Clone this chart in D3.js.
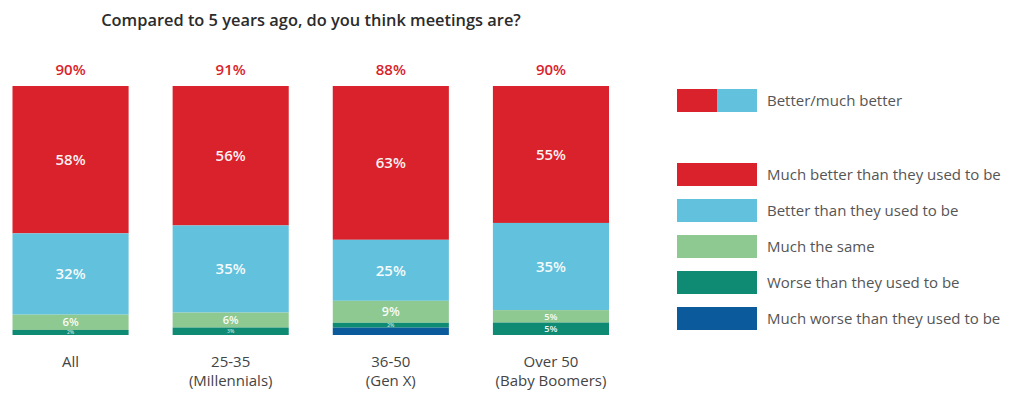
<!DOCTYPE html>
<html><head><meta charset="utf-8">
<script src="https://cdn.jsdelivr.net/npm/d3@7"></script>
<style>
html,body{margin:0;padding:0;background:#fff;}
svg{display:block;font-family:"Open Sans",sans-serif;}
</style></head>
<body>
<svg id="c" width="1024" height="399"></svg>
<script>
const title = "Compared to 5 years ago, do you think meetings are?";
const categories = ["All", "25-35", "36-50", "Over 50"];
const subLabels = ["", "(Millennials)", "(Gen X)", "(Baby Boomers)"];
const seriesNames = ["Much better than they used to be", "Better than they used to be", "Much the same", "Worse than they used to be", "Much worse than they used to be"];
const muchBetter = [58, 56, 63, 55];
const better = [32, 35, 25, 35];
const same = [6, 6, 9, 5];
const worse = [2, 3, 2, 5];
const muchWorse = [0, 0, 3, 0];
const betterTotal = [90, 91, 88, 90];
const comboLegend = "Better/much better";
const colors = ["#d9222b", "#62c1dc", "#8fc992", "#0f8b74", "#0b5b9c"];

const seriesValues = [muchBetter, better, same, worse, muchWorse];
const showLabel = [true, true, true, true, false];
const rows = categories.map((c, i) => {
  const r = {cat: c};
  seriesNames.forEach((s, k) => r[s] = seriesValues[k][i]);
  return r;
});

const svg = d3.select("#c");
svg.append("text").attr("x", 311).attr("y", 26).attr("text-anchor", "middle")
  .attr("font-size", 16.4).attr("font-weight", 600).attr("fill", "#2b2b2b").text(title);

const x = d3.scaleBand().domain(categories).range([12.5, 609]).paddingInner(0.275).paddingOuter(0);
// first series stacked from the top of the bar downwards
const y = d3.scaleLinear().domain([0, 1]).range([86, 335]);

const stack = d3.stack().keys(seriesNames).offset(d3.stackOffsetExpand);
const stacked = stack(rows);

const g = svg.append("g");
stacked.forEach((layer, k) => {
  const lg = g.append("g");
  lg.selectAll("rect").data(layer).join("rect")
    .attr("x", d => x(d.data.cat))
    .attr("width", x.bandwidth())
    .attr("y", d => y(d[0]))
    .attr("height", d => Math.max(0, y(d[1]) - y(d[0])))
    .attr("fill", colors[k]);
  if (showLabel[k]) {
    lg.selectAll("text").data(layer).join("text")
      .attr("x", d => x(d.data.cat) + x.bandwidth() / 2)
      .attr("y", d => (y(d[0]) + y(d[1])) / 2)
      .attr("dy", "0.36em")
      .attr("text-anchor", "middle")
      .attr("font-weight", 600)
      .attr("fill", "#fff")
      .attr("fill-opacity", d => (y(d[1]) - y(d[0])) < 10 ? 0.75 : 0.95)
      .attr("font-size", d => {
        const h = y(d[1]) - y(d[0]);
        return h >= 30 ? 15 : (h < 10 ? 5 : Math.min(12.5, h * 0.74));
      })
      .text(d => d.data[seriesNames[k]] + "%");
  }
});

// top totals
svg.append("g").selectAll("text").data(categories).join("text")
  .attr("x", c => x(c) + x.bandwidth() / 2)
  .attr("y", 75)
  .attr("text-anchor", "middle")
  .attr("font-size", 15).attr("font-weight", 600).attr("fill", "#d9222b")
  .text((c, i) => betterTotal[i] + "%");

// category labels
const cl = svg.append("g").selectAll("g").data(categories).join("g")
  .attr("transform", c => `translate(${x(c) + x.bandwidth() / 2},0)`);
cl.append("text").attr("y", 367).attr("text-anchor", "middle")
  .attr("font-size", 15).attr("fill", "#444").text(c => c);
cl.append("text").attr("y", 386).attr("text-anchor", "middle")
  .attr("font-size", 15).attr("fill", "#444").text((c, i) => subLabels[i]);

// legend
const lx = 677, sw = 80, sh = 23;
const leg = svg.append("g");
leg.append("rect").attr("x", lx).attr("y", 89).attr("width", sw / 2).attr("height", sh).attr("fill", colors[0]);
leg.append("rect").attr("x", lx + sw / 2).attr("y", 89).attr("width", sw / 2).attr("height", sh).attr("fill", colors[1]);
leg.append("text").attr("x", 767).attr("y", 101).attr("dy", "0.35em")
  .attr("font-size", 15).attr("fill", "#555").text(comboLegend);
const items = leg.selectAll("g.item").data(seriesNames).join("g").attr("class", "item")
  .attr("transform", (d, i) => `translate(0,${163 + i * 36})`);
items.append("rect").attr("x", lx).attr("y", 0).attr("width", sw).attr("height", sh)
  .attr("fill", (d, i) => colors[i]);
items.append("text").attr("x", 767).attr("y", sh / 2).attr("dy", "0.35em")
  .attr("font-size", 15).attr("fill", "#555").text(d => d);
</script>
</body></html>
